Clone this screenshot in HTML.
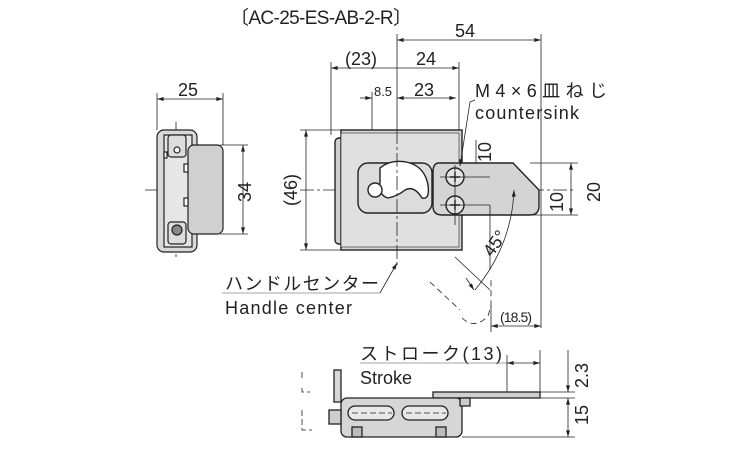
<!DOCTYPE html>
<html><head><meta charset="utf-8"><style>
html,body{margin:0;padding:0;background:#fff;width:750px;height:450px;overflow:hidden}
text{font-family:"Liberation Sans","Noto Sans CJK JP",sans-serif;fill:#222}
</style></head><body>
<svg width="750" height="450" viewBox="0 0 750 450" xmlns="http://www.w3.org/2000/svg">
<defs>
<marker id="a" viewBox="0 0 10 6" refX="10" refY="3" markerWidth="9" markerHeight="5" orient="auto-start-reverse"><path d="M0,0L10,3L0,6z" fill="#222"/></marker>
</defs>
<text x="230" y="24" font-size="19" textLength="182">〔AC-25-ES-AB-2-R〕</text>
<g stroke="#222" stroke-width="0.8" fill="none">
<line x1="397" y1="40" x2="541" y2="40" marker-start="url(#a)" marker-end="url(#a)"/>
<line x1="397" y1="34" x2="397" y2="130"/>
<line x1="541" y1="34" x2="541" y2="328"/>
<line x1="331" y1="68" x2="459" y2="68" marker-start="url(#a)" marker-end="url(#a)"/>
<line x1="331" y1="62" x2="331" y2="135"/>
<line x1="459" y1="62" x2="459" y2="140"/>
<line x1="360" y1="98" x2="372" y2="98" marker-end="url(#a)"/>
<line x1="397" y1="98" x2="409" y2="98" marker-start="url(#a)"/>
<line x1="409" y1="98" x2="456" y2="98" marker-end="url(#a)"/>
<line x1="372" y1="92" x2="372" y2="190"/>
<line x1="157" y1="99" x2="223" y2="99" marker-start="url(#a)" marker-end="url(#a)"/>
<line x1="157" y1="93" x2="157" y2="130"/>
<line x1="223" y1="93" x2="223" y2="145"/>
<line x1="243" y1="145" x2="243" y2="234" marker-start="url(#a)" marker-end="url(#a)"/>
<line x1="220" y1="145" x2="248" y2="145"/>
<line x1="220" y1="234" x2="248" y2="234"/>
<line x1="145" y1="190" x2="218" y2="190" stroke-dasharray="14,3,3,3"/>
<line x1="176" y1="122" x2="176" y2="260" stroke-dasharray="14,3,3,3"/>
<line x1="306" y1="130" x2="306" y2="250" marker-start="url(#a)" marker-end="url(#a)"/>
<line x1="300" y1="130" x2="342" y2="130"/>
<line x1="300" y1="250" x2="342" y2="250"/>
<line x1="476" y1="177" x2="476" y2="205" marker-start="url(#a)" marker-end="url(#a)"/>
<line x1="476" y1="140" x2="476" y2="177"/>
<line x1="440" y1="177" x2="500" y2="177"/>
<line x1="440" y1="205" x2="500" y2="205"/>
<line x1="571" y1="163" x2="571" y2="215" marker-start="url(#a)" marker-end="url(#a)"/>
<line x1="530" y1="163" x2="578" y2="163"/>
<line x1="530" y1="215" x2="578" y2="215"/>
<line x1="300" y1="190" x2="575" y2="190" stroke-dasharray="14,3,3,3"/>
<line x1="491" y1="326" x2="541" y2="326" marker-start="url(#a)" marker-end="url(#a)"/>
<line x1="491" y1="305" x2="491" y2="332"/>
</g>
<text x="455" y="37" font-size="18">54</text>
<text x="345" y="65" font-size="18">(23)</text>
<text x="416" y="65" font-size="18">24</text>
<text x="374" y="96" font-size="13" textLength="18">8.5</text>
<text x="414" y="96" font-size="18">23</text>
<text x="178" y="96" font-size="18">25</text>
<text font-size="18" transform="translate(251,202) rotate(-90)">34</text>
<text font-size="18" transform="translate(297,206) rotate(-90)">(46)</text>
<text font-size="18" transform="translate(491,162) rotate(-90)">10</text>
<text font-size="18" transform="translate(563,212) rotate(-90)">10</text>
<text font-size="18" transform="translate(600,202) rotate(-90)">20</text>
<text font-size="18" transform="translate(492,258) rotate(-55)">45°</text>
<text x="500" y="322" font-size="14" textLength="32">(18.5)</text>
<text x="475" y="97" font-size="18" textLength="132">M4×6皿ねじ</text>
<text x="475" y="119" font-size="18" textLength="104">countersink</text>
<text x="225" y="290" font-size="18" textLength="154">ハンドルセンター</text>
<text x="225" y="314" font-size="18" textLength="127">Handle center</text>
<text x="360" y="360" font-size="18" textLength="142">ストローク(13)</text>
<text x="360" y="384" font-size="18">Stroke</text>
<text font-size="18" transform="translate(588,388) rotate(-90)">2.3</text>
<text font-size="18" transform="translate(588,425) rotate(-90)">15</text>

<g stroke="#222" stroke-width="1.2">
<rect x="157" y="130" width="40" height="122" rx="7" fill="#d9d9d9"/>
<rect x="164" y="135" width="28" height="112" fill="#e6e6e6"/>
<rect x="188" y="145" width="35" height="89" rx="6" fill="#d0d0d0"/>
<rect x="168" y="135" width="18" height="22" rx="3" fill="#ddd"/>
<rect x="168" y="222" width="18" height="22" rx="3" fill="#ddd"/>
<circle cx="177" cy="150" r="3" fill="#fff"/>
<circle cx="177" cy="230" r="5" fill="#888"/>
<rect x="184" y="164" width="4" height="8" fill="#fff"/>
<rect x="184" y="198" width="4" height="8" fill="#fff"/>
<rect x="164" y="152" width="3" height="6" fill="#fff"/>
</g>
<g stroke="#222" stroke-width="1.4">
<rect x="335" y="138" width="12" height="106" rx="4" fill="#d0d0d0"/>
<rect x="341" y="130" width="121" height="120" fill="#d6d6d6"/>
<rect x="341" y="133" width="118" height="114" fill="#e0e0e0" stroke-width="0.6"/>
<rect x="358" y="163" width="74" height="50" rx="10" fill="#dcdcdc"/>
<path d="M380,168 Q392,158 410,163 Q425,168 428,185 Q430,200 422,198 Q414,185 405,190 Q398,196 388,198 Q378,195 380,182 Z" fill="#fff"/>
<circle cx="375" cy="190" r="7" fill="#fff"/>
<path d="M439,163 L513,163 L539,190 L539,206 Q539,215 530,215 L442,215 Q433,215 433,206 L433,172 Q433,163 439,163 Z" fill="#d4d4d4"/>
<circle cx="455" cy="177" r="9" fill="#e4e4e4"/>
<circle cx="455" cy="205" r="9" fill="#e4e4e4"/>
</g>
<g stroke="#222" stroke-width="0.8" fill="none">
<path d="M450,177h10M455,172v10M450,205h10M455,200v10" stroke-width="1.4"/>
<line x1="397" y1="130" x2="397" y2="265" stroke-dasharray="14,3,3,3"/>
<line x1="455" y1="165" x2="455" y2="225"/>
<line x1="440" y1="177" x2="490" y2="177"/>
<line x1="440" y1="205" x2="490" y2="205"/>
<polyline points="475,100 470,102 460,166" marker-end="url(#a)"/>
<polyline points="222,293 380,293" stroke="#888"/>
<line x1="380" y1="293" x2="397" y2="263" marker-end="url(#a)"/>
<path d="M514,190 Q512,245 475,290" marker-start="url(#a)"/>
<line x1="466" y1="278" x2="474" y2="290" marker-end="url(#a)"/>
<line x1="455" y1="257" x2="490" y2="290"/>
<path d="M430,282 L460,310 M462,318 Q475,330 488,316 L491,306 L491,280" stroke-dasharray="6,4"/>
<line x1="490" y1="205" x2="490" y2="270"/>
</g>
<g stroke="#222" stroke-width="0.8" fill="none">
<line x1="360" y1="363" x2="507" y2="363" stroke="#888"/>
<line x1="507" y1="363" x2="540" y2="363" marker-start="url(#a)" marker-end="url(#a)"/>
<line x1="507" y1="355" x2="507" y2="398"/>
<line x1="540" y1="350" x2="540" y2="398"/>
<line x1="568" y1="350" x2="568" y2="392" marker-end="url(#a)"/>
<line x1="568" y1="398" x2="568" y2="437" marker-start="url(#a)" marker-end="url(#a)"/>
<line x1="540" y1="392" x2="575" y2="392"/>
<line x1="540" y1="398" x2="575" y2="398"/>
<line x1="462" y1="437" x2="575" y2="437"/>
<path d="M302,372v8M302,388v4h8M302,410v20h10" stroke-dasharray="6,3"/>
</g>
<g stroke="#222" stroke-width="1.3">
<rect x="334" y="370" width="7" height="32" fill="#d8d8d8"/>
<rect x="433" y="392" width="107" height="6" fill="#d0d0d0"/>
<rect x="341" y="398" width="121" height="39" rx="6" fill="#d6d6d6"/>
<rect x="329" y="410" width="12" height="14" fill="#ccc"/>
<rect x="348" y="406" width="46" height="14" rx="7" fill="#e8e8e8"/>
<rect x="402" y="406" width="46" height="14" rx="7" fill="#e8e8e8"/>
<rect x="352" y="427" width="10" height="10" fill="#bbb"/>
<rect x="436" y="427" width="10" height="10" fill="#bbb"/>
<rect x="460" y="398" width="10" height="8" fill="#ccc"/>
</g>
<g stroke="#222" stroke-width="0.8" fill="none" stroke-dasharray="6,3">
<line x1="352" y1="413" x2="392" y2="413"/>
<line x1="406" y1="413" x2="446" y2="413"/>
</g>
</svg>
</body></html>
